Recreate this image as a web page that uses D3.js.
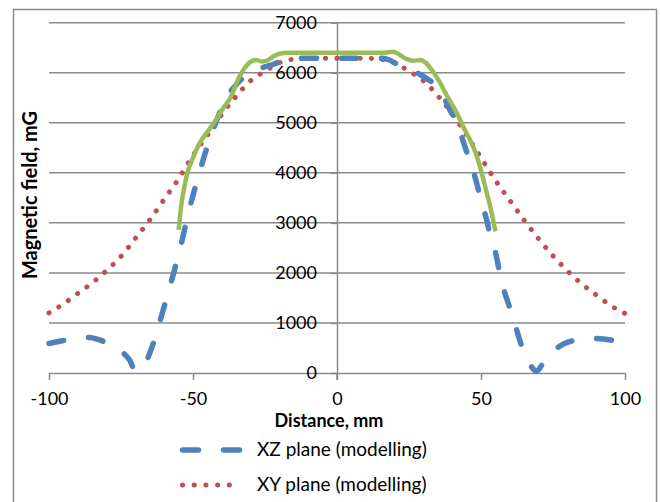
<!DOCTYPE html>
<html>
<head>
<meta charset="utf-8">
<script src="https://cdn.jsdelivr.net/npm/d3@7"></script>
<style>
body { margin: 0; background: #fff; }
text { font-family: Lato, "Open Sans", sans-serif; fill: #000; }
</style>
</head>
<body>
<script>
var w = 660, h = 502;

// XZ plane (modelling) - blue dashed
var xzDist = [-100,-95,-90,-86,-83,-80,-77,-74,-72,-70,-68,-66,-64,-62,-60,-58,-56,-54,-52,-50,-48,-46,-44,-42,-40,-37,-35,-33,-30,-27,-25,-22,-18,-15,-10,-5,0,
              5,10,15,18,20,23,27,31,35,37,39,42,44,46,48,50,52,53,55,57,60,62,64,66,68,69.3,71,73,76,79,85,90,95,100];
var xzVals = [590,650,700,710,670,605,510,390,260,40,110,260,560,930,1330,1730,2150,2600,3100,3550,3950,4350,4700,5020,5300,5620,5760,5880,5990,6080,6120,6170,6270,6290,6290,6290,6290,
              6290,6290,6290,6260,6200,6120,6020,5890,5700,5520,5280,4950,4600,4250,3900,3450,3050,2800,2420,1860,1300,930,560,280,90,30,150,330,480,590,670,690,660,580];

// XY plane (modelling) - red dotted
var xyDist = [-100,-95,-90,-85,-80,-75,-70,-65,-60,-55,-50,-45,-40,-35,-30,-25,-20,-15,-10,-5,0,5,10,15,20,25,30,35,40,45,50,55,60,65,70,75,80,85,90,95,100];
var xyVals = [1200,1380,1590,1800,2050,2330,2690,3060,3470,3880,4350,4750,5170,5530,5840,6030,6200,6270,6290,6290,6290,6290,6290,6270,6200,6030,5840,5540,5180,4760,4300,3850,3450,3050,2680,2340,2040,1780,1560,1350,1190];

// third series - green solid
var gDist = [-55,-54,-53,-52,-50,-48,-45,-42,-40,-37,-34,-32,-30,-28,-26,-24,-22,-20,-17,-10,0,10,16,19.5,22,24,26.5,29,31,33,36,38,40,42,44,46,48,50,52,53.5,55];
var gVals = [2860,3380,3720,3990,4300,4560,4820,5060,5250,5500,5910,6100,6220,6255,6225,6250,6330,6380,6400,6400,6400,6400,6400,6420,6350,6280,6240,6255,6190,6050,5780,5560,5360,5150,4900,4680,4420,4050,3600,3250,2830];

var xTicks = [-100, -50, 0, 50, 100];
var yTicks = [0, 1000, 2000, 3000, 4000, 5000, 6000, 7000];

var legendNames = ["XZ plane (modelling)", "XY plane (modelling)"];

var blue = "#4f81bd", red = "#c0504d", green = "#9bbb59", grid = "#8a8a8a";

var svg = d3.select("body").append("svg")
  .attr("width", w)
  .attr("height", h);

// outer chart border
svg.append("rect")
  .attr("x", 13.5).attr("y", 9.5)
  .attr("width", 643).attr("height", 520)
  .attr("fill", "none")
  .attr("stroke", grid)
  .attr("stroke-width", 1.5);

var x = d3.scaleLinear().domain([-100, 100]).range([49, 625]);
var y = d3.scaleLinear().domain([0, 7000]).range([373, 22.7]);

// horizontal gridlines
svg.append("g").selectAll("line")
  .data(yTicks.slice(1))
  .enter()
  .append("line")
  .attr("x1", x(-100))
  .attr("x2", x(100))
  .attr("y1", function(d) { return y(d); })
  .attr("y2", function(d) { return y(d); })
  .attr("stroke", grid)
  .attr("stroke-width", 1.5);

// plain hyphen minus like the original
var fmt = function(d) { return String(d); };

// x axis along 0
var xAxis = svg.append("g")
  .attr("transform", "translate(0," + y(0) + ")")
  .call(d3.axisBottom(x).tickValues(xTicks).tickSizeInner(7).tickSizeOuter(0).tickPadding(12)
    .tickFormat(fmt));
xAxis.select(".domain").attr("stroke", grid).attr("stroke-width", 1.5);
xAxis.selectAll(".tick line").attr("stroke", grid).attr("stroke-width", 1.5);
xAxis.selectAll("text").attr("font-size", "18px").attr("font-family", "Lato");

// y axis through x = 0
var yAxis = svg.append("g")
  .attr("transform", "translate(" + x(0) + ",0)")
  .call(d3.axisLeft(y).tickValues(yTicks).tickSizeInner(6).tickSizeOuter(0).tickPadding(14)
    .tickFormat(fmt));
yAxis.select(".domain").attr("stroke", grid).attr("stroke-width", 1.5);
yAxis.selectAll(".tick line").attr("stroke", grid).attr("stroke-width", 1.5);
yAxis.selectAll("text").attr("font-size", "18px").attr("font-family", "Lato");
svg.append("line")
  .attr("x1", x(0)).attr("x2", x(0))
  .attr("y1", y(0)).attr("y2", y(0) + 7)
  .attr("stroke", grid).attr("stroke-width", 1.5);

function pts(xs, vs) {
  return xs.map(function(d, i) { return [d, vs[i]]; });
}

var line = d3.line()
  .x(function(d) { return x(d[0]); })
  .y(function(d) { return y(d[1]); })
  .curve(d3.curveMonotoneX);

svg.append("path")
  .datum(pts(xyDist, xyVals))
  .attr("d", line)
  .attr("fill", "none")
  .attr("stroke", red)
  .attr("stroke-width", 5)
  .attr("stroke-linecap", "round")
  .attr("stroke-dasharray", "0.1,11.4");

svg.append("path")
  .datum(pts(xzDist, xzVals))
  .attr("d", line)
  .attr("fill", "none")
  .attr("stroke", blue)
  .attr("stroke-width", 5.5)
  .attr("stroke-linecap", "round")
  .attr("stroke-dasharray", "15,25");

svg.append("path")
  .datum(pts(gDist, gVals))
  .attr("d", line)
  .attr("fill", "none")
  .attr("stroke", green)
  .attr("stroke-width", 4.5)
  .attr("stroke-linejoin", "round");

// axis titles
svg.append("text")
  .attr("x", 329)
  .attr("y", 427)
  .attr("text-anchor", "middle")
  .attr("font-size", "18px")
  .attr("font-weight", "bold")
  .text("Distance, mm");

svg.append("text")
  .attr("transform", "translate(37,195) rotate(-90)")
  .attr("text-anchor", "middle")
  .attr("font-size", "20px")
  .attr("font-weight", "bold")
  .text("Magnetic field, mG");

// legend
var legend = svg.append("g");
var legendY = [450, 485];
var legendStyle = [
  { color: blue, width: 5.5, dash: "16,25" },
  { color: red, width: 5, dash: "0.1,11.6" }
];
legend.selectAll("line")
  .data(legendNames)
  .enter()
  .append("line")
  .attr("x1", 182.5)
  .attr("x2", 241)
  .attr("y1", function(d, i) { return legendY[i]; })
  .attr("y2", function(d, i) { return legendY[i]; })
  .attr("stroke", function(d, i) { return legendStyle[i].color; })
  .attr("stroke-width", function(d, i) { return legendStyle[i].width; })
  .attr("stroke-linecap", "round")
  .attr("stroke-dasharray", function(d, i) { return legendStyle[i].dash; });
legend.selectAll("text")
  .data(legendNames)
  .enter()
  .append("text")
  .attr("x", 257)
  .attr("y", function(d, i) { return legendY[i] + 1; })
  .attr("dominant-baseline", "middle")
  .attr("font-size", "19px")
  .text(function(d) { return d; });
</script>
</body>
</html>
